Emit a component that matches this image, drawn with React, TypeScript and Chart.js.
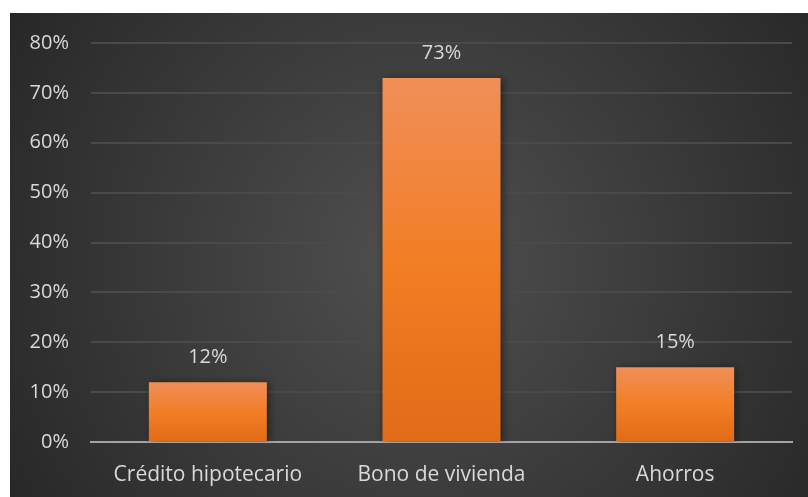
import React, { useEffect, useRef } from "react";
import { Chart, registerables } from "chart.js";

Chart.register(...registerables);

const categories = ["Crédito hipotecario", "Bono de vivienda", "Ahorros"];
const values = [12, 73, 15];
const yTicks = [0, 10, 20, 30, 40, 50, 60, 70, 80];

const FONT = "'Open Sans', sans-serif";

const bgPlugin = {
  id: "bg",
  beforeDraw(chart: any) {
    const { ctx, width, height } = chart;
    ctx.save();
    ctx.fillStyle = "#ffffff";
    ctx.fillRect(0, 0, width, height);
    const g = ctx.createRadialGradient(420, 260, 10, 420, 260, 520);
    g.addColorStop(0, "#4f4f4f");
    g.addColorStop(1, "#242424");
    ctx.fillStyle = g;
    ctx.fillRect(10, 13, width - 10, height - 13);
    ctx.restore();
  },
};

const labelPlugin = {
  id: "vlabels",
  afterDatasetsDraw(chart: any) {
    const { ctx } = chart;
    const meta = chart.getDatasetMeta(0);
    ctx.save();
    ctx.fillStyle = "#d9d9d9";
    ctx.font = `20px ${FONT}`;
    ctx.textAlign = "center";
    ctx.textBaseline = "middle";
    meta.data.forEach((el: any, i: number) => {
      ctx.fillText(values[i] + "%", el.x, el.y - 25);
    });
    ctx.restore();
  },
};

const shadowPlugin = {
  id: "shadow",
  beforeDatasetDraw(chart: any) {
    const ctx = chart.ctx;
    ctx.save();
    ctx.shadowColor = "rgba(0,0,0,0.45)";
    ctx.shadowBlur = 8;
    ctx.shadowOffsetX = 2;
    ctx.shadowOffsetY = 1;
  },
  afterDatasetDraw(chart: any) {
    chart.ctx.restore();
  },
};

export default function App() {
  const ref = useRef<HTMLCanvasElement>(null);
  useEffect(() => {
    const canvas = ref.current!;
    const chart = new Chart(canvas, {
      type: "bar",
      data: {
        labels: categories,
        datasets: [
          {
            data: values,
            backgroundColor: (c: any) => {
              const ch = c.chart;
              const ys = ch.scales && ch.scales.y;
              if (!ys || c.raw === undefined) return "#f07f26";
              const top = ys.getPixelForValue(c.raw);
              const base = ys.getPixelForValue(0);
              if (!isFinite(top) || !isFinite(base) || top === base) return "#f07f26";
              const g = ch.ctx.createLinearGradient(0, top, 0, base);
              g.addColorStop(0, "#f08f58");
              g.addColorStop(0.5, "#f27e25");
              g.addColorStop(1, "#e26b17");
              return g;
            },
            borderWidth: 0,
            categoryPercentage: 1,
            barPercentage: 0.505,
          },
        ],
      },
      options: {
        animation: false,
        responsive: false,
        maintainAspectRatio: false,
        devicePixelRatio: 1,
        layout: { padding: { left: 0, right: 16, top: 43, bottom: 0 } },
        plugins: { legend: { display: false }, tooltip: { enabled: false } },
        scales: {
          x: {
            grid: { display: false, drawTicks: false },
            border: { display: true, color: "#a3a3a3", width: 2 },
            ticks: {
              color: "#d9d9d9",
              font: { family: FONT, size: 21 },
              padding: 20,
            },
            afterFit(s: any) {
              s.height = 55;
            },
          },
          y: {
            min: 0,
            max: 80,
            afterBuildTicks(s: any) {
              s.ticks = yTicks.map((v) => ({ value: v }));
            },
            grid: { color: "#4a4a4a", lineWidth: 2, drawTicks: false },
            border: { display: false },
            ticks: {
              color: "#d9d9d9",
              font: { family: FONT, size: 20 },
              padding: 22,
              callback: (v: any) => v + "%",
            },
            afterFit(s: any) {
              s.width = 91;
            },
          },
        },
      },
      plugins: [bgPlugin, shadowPlugin, labelPlugin],
    } as any);
    return () => chart.destroy();
  }, []);
  return (
    <div style={{ position: "absolute", left: 0, top: 0, width: 808, height: 497 }}>
      <canvas ref={ref} width={808} height={497} style={{ display: "block" }} />
    </div>
  );
}
